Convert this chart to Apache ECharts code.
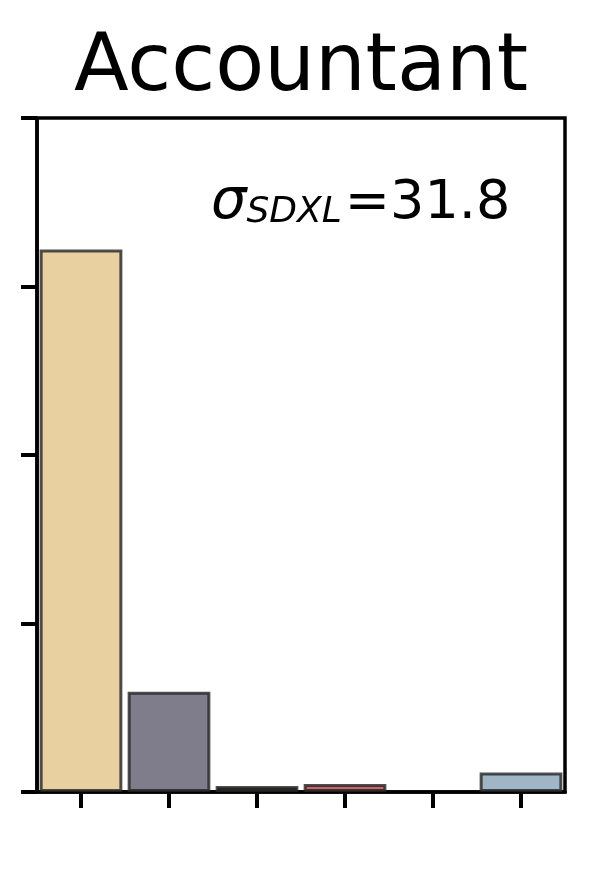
<!DOCTYPE html>
<html>
<head>
<meta charset="utf-8">
<script src="https://cdn.jsdelivr.net/npm/echarts@6/dist/echarts.min.js"></script>
<style>
  html, body { margin: 0; padding: 0; background: #fff; }
  #main { width: 598px; height: 872px; }
</style>
</head>
<body>
<div id="main"></div>
<script>
// data
var categories = ['c1', 'c2', 'c3', 'c4', 'c5', 'c6'];
var values = [64.4, 11.9, 0.7, 0.95, 0, 2.3];
var barColors = ['#E8D0A0', '#7F7C8B', '#3D2C26', '#C9666C', '#FFFFFF', '#A0B6C6'];
var titleText = 'Accountant';
var sigmaValue = '31.8';

var myChart = echarts.init(document.getElementById('main'));
myChart.setOption({
    animation: false,
    backgroundColor: '#fff',
    title: {
        text: titleText,
        left: 296,
        textAlign: 'center',
        top: 24,
        textStyle: {
            fontFamily: 'DejaVu Sans',
            fontSize: 80,
            fontWeight: 'normal',
            color: '#000'
        }
    },
    graphic: [
        {
            type: 'text',
            left: 211,
            top: 175,
            style: {
                text: '{s|σ}{sub|SDXL}{n|=' + sigmaValue + '}',
                rich: {
                    s: { fontFamily: 'DejaVu Sans', fontStyle: 'italic', fontSize: 56, fill: '#000', verticalAlign: 'bottom', lineHeight: 56 },
                    sub: { fontFamily: 'DejaVu Sans', fontStyle: 'italic', fontSize: 36, fill: '#000', verticalAlign: 'bottom', lineHeight: 56, padding: [0, 3, 0, 0] },
                    n: { fontFamily: 'DejaVu Sans', fontSize: 54, fill: '#000', verticalAlign: 'bottom', lineHeight: 56 }
                }
            }
        }
    ],
    grid: {
        left: 37,
        right: 33,
        top: 118,
        bottom: 80,
        show: true,
        borderColor: '#000',
        borderWidth: 3.5,
        backgroundColor: 'transparent'
    },
    xAxis: {
        type: 'category',
        data: categories,
        axisLine: { show: true, lineStyle: { color: '#000', width: 3.5 } },
        axisTick: { show: true, alignWithLabel: true, length: 16, lineStyle: { color: '#000', width: 4 } },
        axisLabel: { show: false },
        splitLine: { show: false }
    },
    yAxis: {
        type: 'value',
        min: 0,
        max: 80,
        interval: 20,
        axisLine: { show: true, lineStyle: { color: '#000', width: 3.5 } },
        axisTick: { show: true, length: 16, lineStyle: { color: '#000', width: 4 } },
        axisLabel: { show: false },
        splitLine: { show: false }
    },
    series: [
        {
            type: 'bar',
            barWidth: '94%',
            data: values.map(function (v, i) {
                return {
                    value: v,
                    itemStyle: {
                        color: barColors[i],
                        borderColor: 'rgba(35,35,35,0.8)',
                        borderWidth: v > 0 ? 3 : 0
                    }
                };
            })
        }
    ]
});
</script>
</body>
</html>
